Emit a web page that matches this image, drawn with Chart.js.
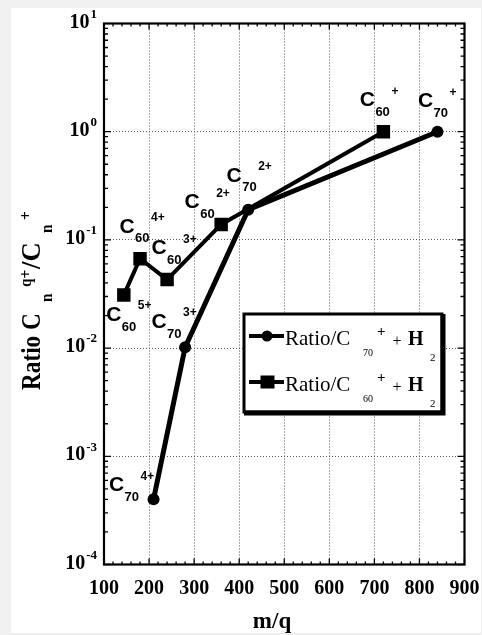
<!DOCTYPE html>
<html>
<head>
<meta charset="utf-8">
<style>
  html, body { margin: 0; padding: 0; background: #f0f0f0; }
  #wrap { width: 482px; height: 635px; }
</style>
</head>
<body>
<div id="wrap"><canvas id="chartRatio" width="482" height="635"></canvas></div>
<script src="https://cdn.jsdelivr.net/npm/chart.js@4.4.0/dist/chart.umd.min.js"></script>
<script>
// C70+ + H2 series (circles)
const mqC70 = [210, 280, 420, 840];
const ratioC70 = [0.0004, 0.0102, 0.19, 1.0];
const chargeC70 = ["4+", "3+", "2+", "+"];

// C60+ + H2 series (squares)
const mqC60 = [144, 180, 240, 360, 720];
const ratioC60 = [0.031, 0.067, 0.043, 0.139, 1.0];
const chargeC60 = ["5+", "4+", "3+", "2+", "+"];

// axis ticks
const xTickValues = [100, 200, 300, 400, 500, 600, 700, 800, 900];
const yDecades = [1, 0, -1, -2, -3, -4];

// where the "C" of each ion label sits, relative to its point (px)
const labelOffsetC70 = [[-37, -14], [-26, -25], [-14, -34], [-12, -30]];
const labelOffsetC60 = [[-10, 20], [-13, -32], [-8, -31], [-29, -22], [-16, -31]];

const toPoints = (xs, ys) => xs.map((x, i) => ({ x: x, y: ys[i] }));

function drawIon(ctx, cx, cy, n, charge) {
  ctx.fillStyle = "#000";
  ctx.textBaseline = "middle";
  ctx.textAlign = "center";
  ctx.font = "bold 21px 'Liberation Sans'";
  ctx.fillText("C", cx, cy);
  ctx.textAlign = "left";
  ctx.font = "bold 13px 'Liberation Sans'";
  ctx.fillText(n, cx + 8, cy + 12);
  ctx.font = "bold 12px 'Liberation Sans'";
  ctx.fillText(charge, cx + 24, cy - 9);
}

const paperPlugin = {
  id: "paper",
  beforeDraw(chart) {
    const ctx = chart.ctx;
    ctx.save();
    ctx.fillStyle = "#f0f0f0";
    ctx.fillRect(0, 0, chart.width, chart.height);
    ctx.fillStyle = "#fff";
    ctx.fillRect(11, 8, 470, 625);
    ctx.restore();
  }
};

const framePlugin = {
  id: "frame",
  beforeDatasetsDraw(chart) {
    const ctx = chart.ctx;
    const a = chart.chartArea;
    const xs = chart.scales.x, ys = chart.scales.y;
    ctx.save();
    ctx.strokeStyle = "#000";
    ctx.lineWidth = 1.3;
    // minor ticks on the log axis (left and right)
    for (let e = -4; e < 1; e++) {
      for (let m = 1; m <= 9; m++) {
        const py = ys.getPixelForValue(m * Math.pow(10, e));
        const len = m === 1 ? 7 : 4;
        ctx.beginPath();
        ctx.moveTo(a.left, py); ctx.lineTo(a.left + len, py);
        ctx.moveTo(a.right, py); ctx.lineTo(a.right - len, py);
        ctx.stroke();
      }
    }
    // ticks every 20 on top and bottom
    for (let v = 100; v <= 900; v += 20) {
      const px = xs.getPixelForValue(v);
      const len = v % 100 === 0 ? 6 : 3;
      ctx.beginPath();
      ctx.moveTo(px, a.bottom); ctx.lineTo(px, a.bottom - len);
      ctx.moveTo(px, a.top); ctx.lineTo(px, a.top + len);
      ctx.stroke();
    }
    ctx.lineWidth = 2.2;
    ctx.strokeRect(a.left, a.top, a.right - a.left, a.bottom - a.top);
    ctx.restore();
  },
  afterDatasetsDraw(chart) {
    const ctx = chart.ctx;
    const a = chart.chartArea;
    const xs = chart.scales.x, ys = chart.scales.y;
    ctx.save();

    // ion labels next to the points
    chart.getDatasetMeta(0).data.forEach((pt, i) => {
      const o = labelOffsetC70[i];
      drawIon(ctx, pt.x + o[0], pt.y + o[1], "70", chargeC70[i]);
    });
    chart.getDatasetMeta(1).data.forEach((pt, i) => {
      const o = labelOffsetC60[i];
      drawIon(ctx, pt.x + o[0], pt.y + o[1], "60", chargeC60[i]);
    });

    // legend box
    const lx = 244, ly = 314, lw = 198, lh = 98;
    ctx.fillStyle = "#fff";
    ctx.fillRect(lx, ly, lw, lh);
    ctx.strokeStyle = "#000";
    ctx.lineWidth = 3;
    ctx.strokeRect(lx, ly, lw, lh);
    ctx.lineWidth = 5;
    ctx.beginPath();
    ctx.moveTo(lx + lw + 1, ly);
    ctx.lineTo(lx + lw + 1, ly + lh + 1);
    ctx.lineTo(lx, ly + lh + 1);
    ctx.stroke();

    const rows = [
      { n: "70", ty: 339, marker: "circle", lw: 4 },
      { n: "60", ty: 385, marker: "rect", lw: 4 }
    ];
    rows.forEach(r => {
      const my = r.ty - 3;
      ctx.lineWidth = r.lw;
      ctx.beginPath();
      ctx.moveTo(249, my); ctx.lineTo(284, my);
      ctx.stroke();
      ctx.fillStyle = "#000";
      if (r.marker === "circle") {
        ctx.beginPath(); ctx.arc(267, my, 5.5, 0, Math.PI * 2); ctx.fill();
      } else {
        ctx.fillRect(260.5, my - 6.5, 14, 13);
      }
      ctx.textBaseline = "middle";
      ctx.textAlign = "left";
      ctx.font = "21px 'Liberation Serif'";
      ctx.fillText("Ratio/C", 285, r.ty);
      ctx.font = "10px 'Liberation Serif'";
      ctx.fillText(r.n, 363, r.ty + 14);
      ctx.font = "bold 15px 'Liberation Serif'";
      ctx.fillText("+", 377, r.ty - 7);
      ctx.font = "16px 'Liberation Serif'";
      ctx.textAlign = "center";
      ctx.fillText("+", 397, r.ty + 3);
      ctx.textAlign = "left";
      ctx.font = "bold 20px 'Liberation Serif'";
      ctx.fillText("H", 408, r.ty + 1);
      ctx.font = "11px 'Liberation Serif'";
      ctx.fillText("2", 430, r.ty + 19);
    });

    // x tick labels
    ctx.fillStyle = "#000";
    ctx.font = "bold 20px 'Liberation Serif'";
    ctx.textAlign = "center";
    ctx.textBaseline = "middle";
    xTickValues.forEach(v => {
      ctx.fillText(String(v), xs.getPixelForValue(v), 589);
    });

    // y tick labels 10^e
    yDecades.forEach(e => {
      const py = ys.getPixelForValue(Math.pow(10, e));
      const sup = String(e);
      ctx.font = "bold 13px 'Liberation Serif'";
      const supW = ctx.measureText(sup).width;
      ctx.font = "bold 20px 'Liberation Serif'";
      const baseW = ctx.measureText("10").width;
      const left = 97 - supW - baseW - 1;
      ctx.textAlign = "left";
      ctx.fillText("10", left, py - 1);
      ctx.font = "bold 13px 'Liberation Serif'";
      ctx.fillText(sup, left + baseW + 1, py - 9);
    });

    // x title
    ctx.font = "bold 23px 'Liberation Serif'";
    ctx.textAlign = "center";
    ctx.textBaseline = "alphabetic";
    ctx.fillText("m/q", 272, 628);

    // y title, rotated
    ctx.translate(40, 390);
    ctx.rotate(-Math.PI / 2);
    ctx.textAlign = "left";
    ctx.textBaseline = "alphabetic";
    const seg = (text, x, y, font, sx) => {
      ctx.save();
      ctx.translate(x, y);
      ctx.scale(sx, 1);
      ctx.font = font;
      ctx.fillText(text, 0, 0);
      ctx.restore();
    };
    const mainF = "bold 28px 'Liberation Serif'";
    const subF = "bold 17px 'Liberation Serif'";
    seg("Ratio C", 0, 0, mainF, 0.83);
    seg("n", 88, 12, subF, 0.9);
    seg("q+", 103, -9, subF, 0.9);
    seg("/C", 121, 0, mainF, 0.95);
    seg("n", 157, 12, subF, 0.9);
    seg("+", 170, -9, subF, 0.9);

    ctx.restore();
  }
};

const ctx = document.getElementById("chartRatio").getContext("2d");

new Chart(ctx, {
  type: "line",
  data: {
    datasets: [
      {
        label: "Ratio/C70+ + H2",
        data: toPoints(mqC70, ratioC70),
        borderColor: "#000",
        backgroundColor: "#000",
        borderWidth: 5,
        pointStyle: "circle",
        pointRadius: 6,
        pointBorderWidth: 0,
        tension: 0,
        fill: false
      },
      {
        label: "Ratio/C60+ + H2",
        data: toPoints(mqC60, ratioC60),
        borderColor: "#000",
        backgroundColor: "#000",
        borderWidth: 4,
        pointStyle: "rect",
        pointRadius: 9.5,
        pointBorderWidth: 0,
        tension: 0,
        fill: false
      }
    ]
  },
  options: {
    responsive: false,
    animation: false,
    events: [],
    layout: { padding: { left: 104, right: 17.5, top: 23.5, bottom: 70.5 } },
    plugins: {
      legend: { display: false },
      tooltip: { enabled: false }
    },
    scales: {
      x: {
        type: "linear",
        min: 100,
        max: 900,
        ticks: { display: false, stepSize: 100 },
        grid: { color: "#555", lineWidth: 1, drawTicks: false },
        border: { display: false, dash: [1, 2] },
        afterFit: s => { s.height = 0; }
      },
      y: {
        type: "logarithmic",
        min: 0.0001,
        max: 10,
        ticks: { display: false },
        afterBuildTicks: s => {
          s.ticks = yDecades.map(e => ({ value: Math.pow(10, e) }));
        },
        grid: { color: "#555", lineWidth: 1, drawTicks: false },
        border: { display: false, dash: [1, 2] },
        afterFit: s => { s.width = 0; }
      }
    }
  },
  plugins: [paperPlugin, framePlugin]
});
</script>
</body>
</html>
